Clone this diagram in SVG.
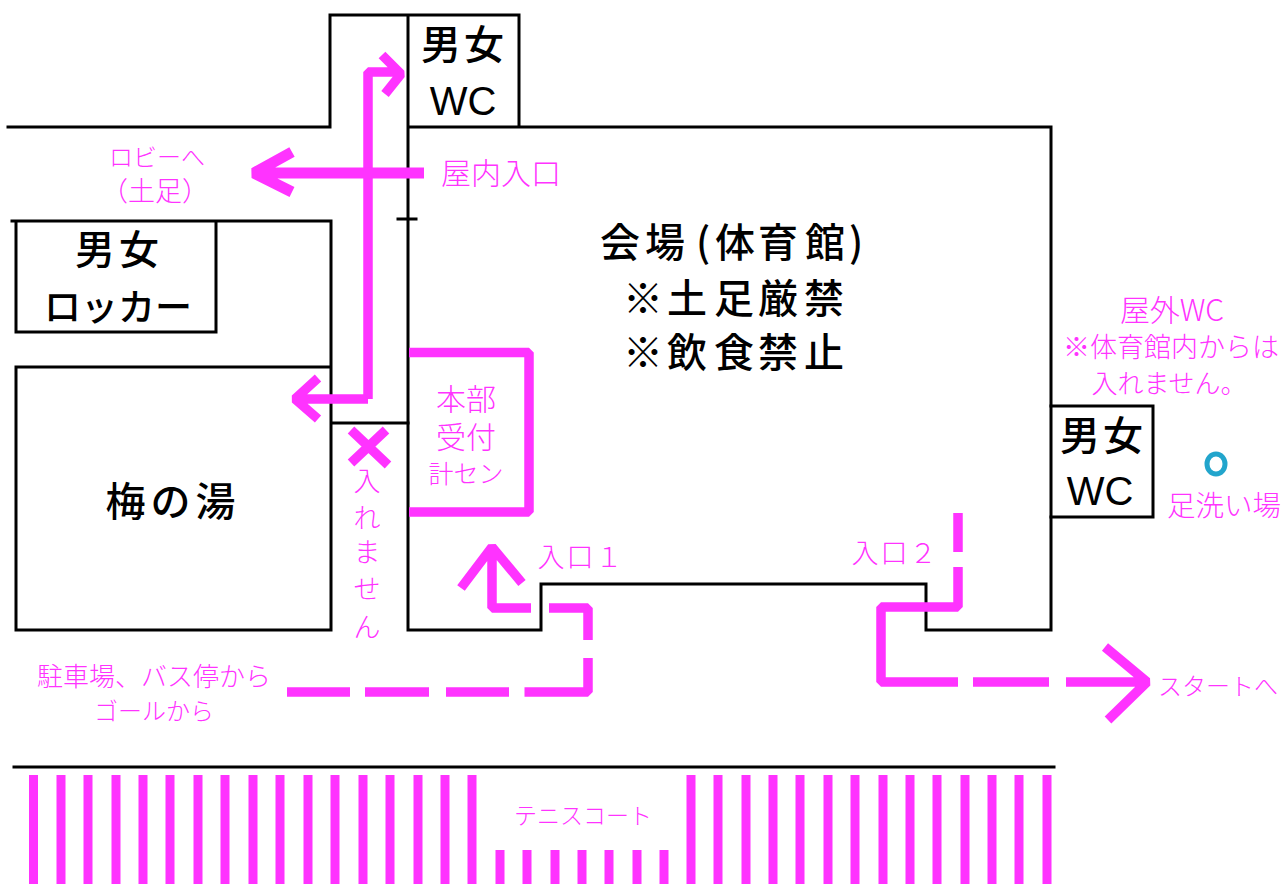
<svg xmlns="http://www.w3.org/2000/svg" width="1283" height="884" viewBox="0 0 1283 884">
<defs><style>
.w{fill:none;stroke:#000;stroke-width:3;stroke-linecap:square;stroke-linejoin:miter}
.m{fill:none;stroke:#ff33ff;stroke-width:9.500;stroke-linejoin:bevel}
.s{stroke:#ff33ff;stroke-width:9}
text{font-family:"Noto Sans CJK JP","Noto Sans",sans-serif;text-anchor:middle}
.b{fill:#000;font-size:40px;font-weight:500}
.l{font-family:"Liberation Sans",sans-serif;font-weight:400}
.p{fill:#ff33ff;font-size:27px;font-weight:300}
</style></defs>
<rect width="1283" height="884" fill="#fff"/>
<g id="walls">
<path class="w" d="M8 127H330V15H519V127M408 15V630H541V584H926V630H1051V127H408M398 219H416"/>
<path class="w" d="M332 423H408"/>
<path class="w" d="M14 767H1054"/>
</g>
<g id="locker"><path class="w" d="M12 221H331V630H16V367H331M16 221V332H216V221"/>
<text class="b" x="119" y="264" letter-spacing="4">男女</text><text class="b" x="118" y="321" style="font-size:37px">ロッカー</text></g>
<g id="wc-north"><text class="b" x="464" y="59" letter-spacing="3">男女</text><text class="b l" x="463" y="115">WC</text></g>
<g id="wc-east"><path class="w" d="M1051 406H1153V517H1051"/><text class="b" x="1103" y="450" letter-spacing="3">男女</text><text class="b l" x="1100" y="505">WC</text></g>
<g id="hall">
<text class="b" x="620 665 703 735 778 825 856" y="257">会場(体育館)</text>
<text class="b" x="643 687 734 778 824" y="313">※土足厳禁</text>
<text class="b" x="643 687 734 778 824" y="367">※飲食禁止</text></g>
<g id="ume"><text class="b" x="173" y="516" letter-spacing="5">梅の湯</text></g>
<g id="reception"><path class="m" d="M409 352.500H529V512H409"/>
<text class="p" style="font-size:30px" x="451 481 451 481" y="410 410 448 448">本部受付</text><text class="p" x="466" y="483" style="font-size:25px">計セン</text></g>
<g id="connectors">
<path class="m" d="M368 399V72H399M382 55L401 74L385 94M368 399H296M318 378L295 399L318 419"/>
<path class="m" style="stroke-width:11" d="M424 173H254M292 152L254 173L292 192"/>
<path class="m" d="M351 430L388 465M386 430L351 463"/>
<path class="m" d="M531 608H492V547M461 588L492 547L522 583"/>
<path class="m" d="M549 608H588V640M588 658V692H524.500M509 692H446M429 692H365M350 692H287"/>
<path class="m" d="M958 513V552M958 567V607H881V682H958M973 682H1049M1066 682H1145M1105 647L1147 682L1108 720"/>
</g>
<g id="courts">
<path class="s" d="M33.500 775V884M61 775V884M88 775V884M116 775V884M143 775V884M170 775V884M198 775V884M225 775V884M253 775V884M280 775V884M308 775V884M335 775V884M363 775V884M390 775V884M418 775V884M445 775V884M472 775V884"/>
<path class="s" d="M691 775V884M718 775V884M746 775V884M773 775V884M800 775V884M828 775V884M855 775V884M883 775V884M910 775V884M937 775V884M965 775V884M992 775V884M1019 775V884M1047 775V884"/>
<path class="s" d="M500 850V884M527 850V884M555 850V884M582 850V884M609 850V884M637 850V884M664 850V884"/>
<text class="p" x="583" y="824" style="font-size:23px">テニスコート</text>
</g>
<g id="wash"><ellipse cx="1216" cy="464" rx="9" ry="10" fill="none" stroke="#22a5cc" stroke-width="5"/><text class="p" x="1224" y="516" style="font-size:28.500px">足洗い場</text></g>
<g id="labels">
<text class="p" x="157" y="166" style="font-size:24px">ロビーへ</text><text class="p" x="155" y="201" style="font-size:27px">（土足）</text>
<text class="p" x="501" y="184" style="font-size:30px">屋内入口</text>
<text class="p" x="581" y="567" letter-spacing="2">入口１</text>
<text class="p" x="895" y="563" letter-spacing="2">入口２</text>
<text class="p" x="1172" y="321" style="font-size:30px">屋外WC</text><text class="p" x="1171" y="357">※体育館内からは</text><text class="p" x="1169" y="393" style="font-size:26px">入れません。</text>
<text class="p" x="154" y="686" style="font-size:26px">駐車場、バス停から</text><text class="p" x="154" y="720" style="font-size:24px">ゴールから</text>
<text class="p" x="1218" y="695" style="font-size:24px">スタートへ</text>
<text class="p" x="367 367 367 367 367" y="491 528 562 599 637">入れません</text>
</g>
</svg>
